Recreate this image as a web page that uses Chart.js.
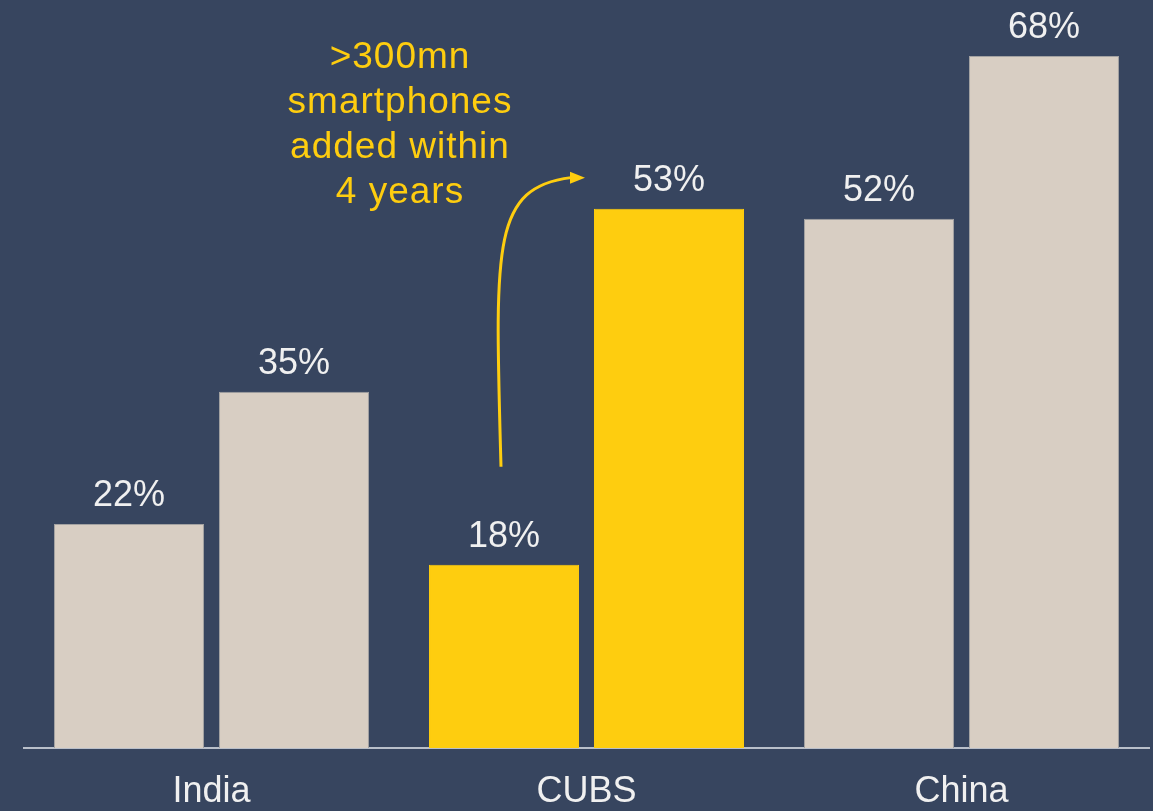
<!DOCTYPE html>
<html>
<head>
<meta charset="utf-8">
<script src="https://cdn.jsdelivr.net/npm/chart.js@4.4.1/dist/chart.umd.min.js"></script>
<style>
  html, body { margin: 0; padding: 0; background: #37455f; }
  #wrap { width: 1153px; height: 811px; position: relative; }
</style>
</head>
<body>
<div id="wrap"><canvas id="bars"></canvas></div>
<script>
// data
const categories = ["India", "CUBS", "China"];
const earlierShare = [22, 18, 52];
const laterShare = [35, 53, 68];
const highlight = [false, true, false];
const noteLines = [">300mn", "smartphones", "added within", "4 years"];

const BEIGE = "#d8cec3";
const YELLOW = "#fecd0f";
const FONT = "'Liberation Sans', Arial, sans-serif";

const fillFor = highlight.map(h => h ? YELLOW : BEIGE);
const edgeFor = highlight.map(h => h ? YELLOW : "#a3a2a2");

// percentage labels on top of every bar
const valueLabels = {
  id: "valueLabels",
  afterDatasetsDraw(chart) {
    const c = chart.ctx;
    c.save();
    c.font = "36px " + FONT;
    c.fillStyle = "#f0f0f0";
    c.textAlign = "center";
    c.textBaseline = "alphabetic";
    chart.data.datasets.forEach((ds, i) => {
      chart.getDatasetMeta(i).data.forEach((bar, j) => {
        c.fillText(ds.data[j] + "%", bar.x, bar.y - 18);
      });
    });
    c.restore();
  }
};

// yellow note + curved arrow between the two CUBS bars
const cubsNote = {
  id: "cubsNote",
  afterDraw(chart) {
    const c = chart.ctx;
    const k = highlight.indexOf(true);
    const from = chart.getDatasetMeta(0).data[k];
    const to = chart.getDatasetMeta(1).data[k];
    const x0 = from.x - 3, y0 = from.y - 98;
    const tipX = to.x - to.width / 2 - 9, tipY = to.y - 31;

    c.save();
    c.strokeStyle = YELLOW;
    c.fillStyle = YELLOW;
    c.lineWidth = 3;
    c.beginPath();
    c.moveTo(x0, y0);
    c.bezierCurveTo(x0 - 6, y0 - 220, x0 - 10, tipY + 10, tipX - 14, tipY);
    c.stroke();
    c.beginPath();
    c.moveTo(tipX, tipY);
    c.lineTo(tipX - 15, tipY - 6);
    c.lineTo(tipX - 15, tipY + 6);
    c.closePath();
    c.fill();

    c.font = "37px " + FONT;
    c.letterSpacing = "1px";
    c.textAlign = "center";
    c.textBaseline = "alphabetic";
    noteLines.forEach((t, i) => c.fillText(t, x0 - 101, 68 + i * 45));
    c.restore();
  }
};

new Chart(document.getElementById("bars"), {
  type: "bar",
  data: {
    labels: categories,
    datasets: [
      { data: earlierShare, backgroundColor: fillFor, borderColor: edgeFor, borderWidth: 1 },
      { data: laterShare, backgroundColor: fillFor, borderColor: edgeFor, borderWidth: 1 }
    ]
  },
  options: {
    responsive: true,
    maintainAspectRatio: false,
    animation: false,
    layout: { padding: { left: 24, right: 4, top: 0, bottom: 0 } },
    datasets: { bar: { categoryPercentage: 0.88, barPercentage: 0.909 } },
    plugins: { legend: { display: false }, tooltip: { enabled: false } },
    scales: {
      x: {
        grid: { display: false, drawTicks: false },
        border: { display: true, color: "#b9bfca", width: 2 },
        ticks: { color: "#f0f0f0", font: { size: 36, family: FONT }, padding: 22 },
        afterFit(scale) { scale.height = 63; }
      },
      y: { display: false, min: 0, max: 73.5 }
    }
  },
  plugins: [valueLabels, cubsNote]
});
</script>
</body>
</html>
